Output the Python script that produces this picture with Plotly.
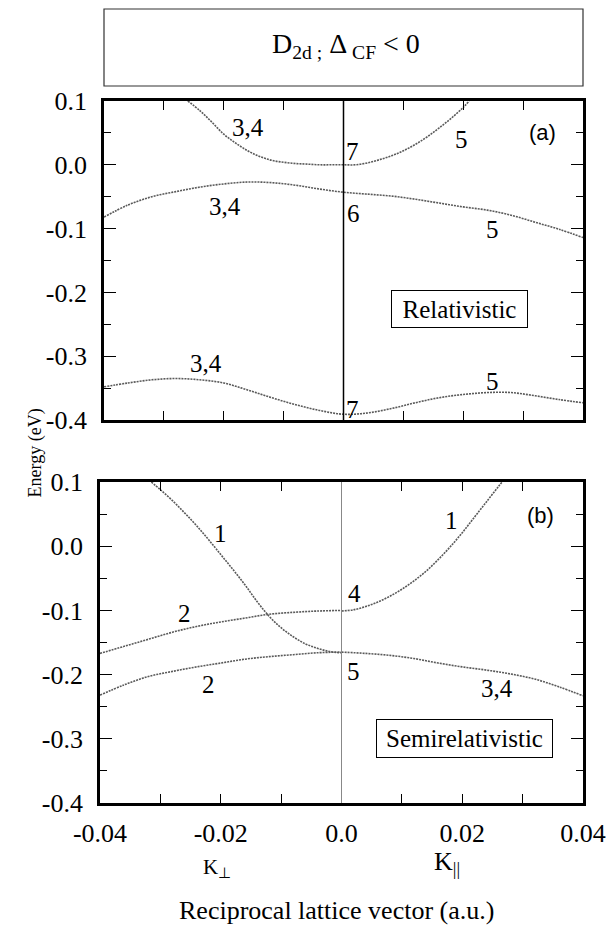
import plotly.graph_objects as go

# ---------------- data ----------------
# Panel (a): relativistic bands
a_upper_k = [-0.026, -0.024, -0.022, -0.020, -0.018, -0.016, -0.014, -0.012, -0.010, -0.008,
             -0.006, -0.004, -0.002, 0.000, 0.002, 0.004, 0.006, 0.008, 0.010, 0.012,
             0.014, 0.016, 0.018, 0.020, 0.021]
a_upper_e = [0.100, 0.085, 0.067, 0.048, 0.034, 0.022, 0.013, 0.007, 0.004, 0.002,
             0.001, 0.000, 0.000, 0.000, 0.000, 0.003, 0.008, 0.014, 0.022, 0.032,
             0.044, 0.058, 0.073, 0.090, 0.100]

a_mid_k = [-0.040, -0.036, -0.032, -0.028, -0.024, -0.020, -0.016, -0.012, -0.008, -0.004,
           0.000, 0.004, 0.008, 0.012, 0.016, 0.020, 0.024, 0.028, 0.032, 0.036, 0.040]
a_mid_e = [-0.082, -0.063, -0.050, -0.042, -0.035, -0.030, -0.027, -0.028, -0.032, -0.038,
           -0.043, -0.046, -0.049, -0.054, -0.060, -0.066, -0.071, -0.079, -0.090, -0.101, -0.114]

a_low_k = [-0.040, -0.036, -0.032, -0.028, -0.024, -0.020, -0.016, -0.012, -0.008, -0.004,
           0.000, 0.004, 0.008, 0.012, 0.016, 0.020, 0.024, 0.028, 0.032, 0.036, 0.040]
a_low_e = [-0.348, -0.342, -0.337, -0.335, -0.337, -0.342, -0.353, -0.365, -0.376, -0.385,
           -0.391, -0.389, -0.382, -0.373, -0.365, -0.360, -0.357, -0.357, -0.362, -0.368, -0.373]

# Panel (b): semirelativistic bands
b_steep_k = [-0.0315, -0.030, -0.028, -0.026, -0.024, -0.022, -0.020, -0.018, -0.016, -0.014,
             -0.012, -0.010, -0.008, -0.006, -0.004, -0.002, 0.000]
b_steep_e = [0.100, 0.088, 0.071, 0.052, 0.032, 0.010, -0.013, -0.036, -0.060, -0.086,
             -0.109, -0.127, -0.141, -0.152, -0.159, -0.164, -0.166]

b_left2u_k = [-0.040, -0.036, -0.032, -0.028, -0.024, -0.020, -0.016, -0.012, -0.008, -0.004, 0.000]
b_left2u_e = [-0.167, -0.156, -0.145, -0.134, -0.125, -0.118, -0.112, -0.106, -0.103, -0.101, -0.100]

b_left2l_k = [-0.040, -0.036, -0.032, -0.028, -0.024, -0.020, -0.016, -0.012, -0.008, -0.004, 0.000]
b_left2l_e = [-0.232, -0.216, -0.203, -0.195, -0.188, -0.182, -0.176, -0.172, -0.169, -0.166, -0.165]

b_right1_k = [0.000, 0.002, 0.004, 0.006, 0.008, 0.010, 0.012, 0.014, 0.016, 0.018,
              0.020, 0.022, 0.024, 0.026, 0.0266]
b_right1_e = [-0.101, -0.099, -0.094, -0.087, -0.078, -0.067, -0.054, -0.039, -0.021, -0.001,
              0.021, 0.045, 0.069, 0.093, 0.100]

b_right34_k = [0.000, 0.004, 0.008, 0.012, 0.016, 0.020, 0.024, 0.028, 0.032, 0.036, 0.040]
b_right34_e = [-0.165, -0.167, -0.170, -0.175, -0.182, -0.188, -0.193, -0.199, -0.207, -0.219, -0.233]

# band labels: (text, k, E)
a_labels = [("3,4", -0.016, 0.059), ("3,4", -0.0198, -0.066), ("7", 0.0015, 0.021),
            ("5", 0.0197, 0.040), ("6", 0.0017, -0.076), ("5", 0.0249, -0.102),
            ("3,4", -0.023, -0.311), ("7", 0.0015, -0.384), ("5", 0.0249, -0.340)]
b_labels = [("1", -0.0201, 0.020), ("2", -0.026, -0.1045), ("2", -0.022, -0.216),
            ("4", 0.0021, -0.073), ("1", 0.0182, 0.040), ("5", 0.0020, -0.195),
            ("3,4", 0.0257, -0.221)]

x_tickvals = [-0.04, -0.02, 0.0, 0.02, 0.04]
x_ticktext = ["-0.04", "-0.02", "0.0", "0.02", "0.04"]
x_minorvals = [-0.03, -0.01, 0.01, 0.03]
y_tickvals = [0.1, 0.0, -0.1, -0.2, -0.3, -0.4]
y_ticktext = ["0.1", "0.0", "-0.1", "-0.2", "-0.3", "-0.4"]
y_minorvals = [0.05, -0.05, -0.15, -0.25, -0.35]

# ---------------- figure ----------------
W, H = 611, 926
SERIF = "Liberation Serif"
SANS = "Liberation Sans"
curve_style = dict(color="#5a5a5a", width=1.6, dash="2px,1px")

fig = go.Figure()
for k, e in [(a_upper_k, a_upper_e), (a_mid_k, a_mid_e), (a_low_k, a_low_e)]:
    fig.add_trace(go.Scatter(x=k, y=e, mode="lines", line=dict(shape="spline", **curve_style),
                             xaxis="x", yaxis="y", showlegend=False, hoverinfo="skip"))
for k, e in [(b_steep_k, b_steep_e), (b_left2u_k, b_left2u_e), (b_left2l_k, b_left2l_e),
             (b_right1_k, b_right1_e), (b_right34_k, b_right34_e)]:
    fig.add_trace(go.Scatter(x=k, y=e, mode="lines", line=dict(shape="spline", **curve_style),
                             xaxis="x2", yaxis="y2", showlegend=False, hoverinfo="skip"))

def xax(domain, anchor, labels):
    return dict(domain=domain, anchor=anchor, range=[-0.04, 0.04], automargin=False,
                tickmode="array", tickvals=x_tickvals, ticktext=x_ticktext,
                showticklabels=labels,
                ticks="inside", ticklen=9, tickwidth=1.3, tickcolor="black",
                minor=dict(tickmode="array", tickvals=x_minorvals, ticks="inside",
                           ticklen=9, tickwidth=1.3, tickcolor="black", showgrid=False),
                mirror="allticks", showline=True, linewidth=2.6, linecolor="black",
                showgrid=False, zeroline=False, ticklabelstandoff=5,
                tickfont=dict(family=SERIF, size=26, color="black"))

def yax(domain, anchor):
    return dict(domain=domain, anchor=anchor, range=[-0.4, 0.1], automargin=False,
                tickmode="array", tickvals=y_tickvals, ticktext=y_ticktext,
                ticks="inside", ticklen=12, tickwidth=1.3, tickcolor="black",
                minor=dict(tickmode="array", tickvals=y_minorvals, ticks="inside",
                           ticklen=7, tickwidth=1.3, tickcolor="black", showgrid=False),
                mirror="allticks", showline=True, linewidth=2.6, linecolor="black",
                showgrid=False, zeroline=False, ticklabelstandoff=9,
                tickfont=dict(family=SERIF, size=26, color="black"))

top_dom = [1 - 420 / H, 1 - 101 / H]
bot_dom = [1 - 803 / H, 1 - 482 / H]

fig.update_layout(
    width=W, height=H, autosize=False, margin=dict(l=0, r=0, t=0, b=0, pad=0),
    paper_bgcolor="white", plot_bgcolor="white",
    xaxis=xax([104 / W, 583 / W], "y", False),
    yaxis=yax(top_dom, "x"),
    xaxis2=xax([100 / W, 583 / W], "y2", True),
    yaxis2=yax(bot_dom, "x2"),
)

# vertical lines at k = 0
fig.add_shape(type="line", xref="x", yref="y domain", x0=0, x1=0, y0=0, y1=1,
              line=dict(color="black", width=1.5))
fig.add_shape(type="line", xref="x2", yref="y2 domain", x0=0, x1=0, y0=0, y1=1,
              line=dict(color="#888888", width=1))

# title box
fig.add_shape(type="rect", xref="paper", yref="paper",
              x0=104 / W, x1=583 / W, y0=1 - 86 / H, y1=1 - 9 / H,
              line=dict(color="#333333", width=1.2), fillcolor="white", layer="below")
fig.add_annotation(xref="paper", yref="paper", x=346 / W, y=1 - 45 / H, yanchor="middle",
                   text="D<sub>2d ;</sub> Δ<sub> CF</sub> &lt; 0", showarrow=False,
                   font=dict(family=SERIF, size=28, color="black"))

for t, k, e in a_labels:
    fig.add_annotation(xref="x", yref="y", x=k, y=e, text=t, showarrow=False,
                       font=dict(family=SERIF, size=25, color="black"))
for t, k, e in b_labels:
    fig.add_annotation(xref="x2", yref="y2", x=k, y=e, text=t, showarrow=False,
                       font=dict(family=SERIF, size=25, color="black"))

fig.add_annotation(xref="x", yref="y", x=0.0332, y=0.051, text="(a)", showarrow=False,
                   font=dict(family=SANS, size=22, color="black"))
fig.add_annotation(xref="x2", yref="y2", x=0.0329, y=0.0486, text="(b)", showarrow=False,
                   font=dict(family=SANS, size=22, color="black"))

fig.add_annotation(xref="x", yref="y", x=0.0194, y=-0.226, text="Relativistic",
                   showarrow=False, bordercolor="black", borderwidth=1, borderpad=2,
                   bgcolor="white", width=131, height=32,
                   font=dict(family=SERIF, size=25, color="black"))
fig.add_annotation(xref="x2", yref="y2", x=0.0203, y=-0.300, text="Semirelativistic",
                   showarrow=False, bordercolor="black", borderwidth=1, borderpad=2,
                   bgcolor="white", width=171, height=33,
                   font=dict(family=SERIF, size=25, color="black"))

# axis titles
fig.add_annotation(xref="paper", yref="paper", x=217 / W, y=1 - 883 / H,
                   text="K<sub>⊥</sub>", showarrow=False,
                   font=dict(family=SERIF, size=21, color="black"))
fig.add_annotation(xref="paper", yref="paper", x=462 / W, y=1 - 881 / H,
                   text="K<sub>||</sub>", showarrow=False,
                   font=dict(family=SERIF, size=26, color="black"))
fig.add_annotation(xref="paper", yref="paper", x=336 / W, y=0, yanchor="bottom",
                   borderpad=0,
                   text="Reciprocal lattice vector (a.u.)", showarrow=False,
                   font=dict(family=SERIF, size=26, color="black"))
fig.add_annotation(xref="paper", yref="paper", x=22 / W, y=1 - 453 / H,
                   text="Energy (eV)", showarrow=False, textangle=-90,
                   font=dict(family=SERIF, size=18, color="black"))

fig.write_html("out.html")
